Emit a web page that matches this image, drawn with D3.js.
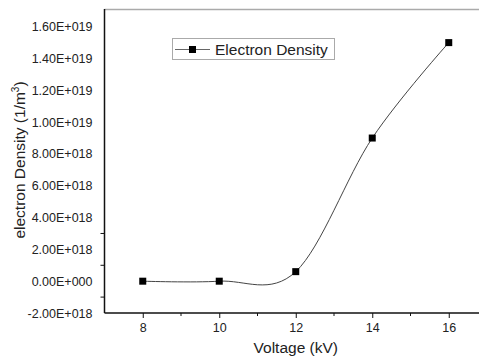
<!DOCTYPE html>
<html>
<head>
<meta charset="utf-8">
<script src="https://cdn.jsdelivr.net/npm/d3@7"></script>
<style>
  body { margin: 0; background: #fff; }
  svg { display: block; font-family: "Liberation Sans", Arial, sans-serif; }
</style>
</head>
<body>
<svg width="479" height="359"></svg>
<script>
// data
var voltage = [8, 10, 12, 14, 16];
var density = [0, 0, 6.0e17, 9.0e18, 1.5e19];
var yTicks = [-2e18, 0, 2e18, 4e18, 6e18, 8e18, 1e19, 1.2e19, 1.4e19, 1.6e19];
var yMinor = [-1e18, 1e18, 3e18];
var xTicks = [8, 10, 12, 14, 16];
var xMinor = [9, 11, 13, 15];
var seriesName = "Electron Density";

// Origin style scientific label, e.g. 1.60E+019
function sci(v) {
  if (v === 0) return "0.00E+000";
  var e = Math.floor(Math.log10(Math.abs(v)) + 1e-9);
  var m = v / Math.pow(10, e);
  return m.toFixed(2) + "E" + (e < 0 ? "-" : "+") + String(Math.abs(e)).padStart(3, "0");
}

function main() {
  var svg = d3.select("svg");

  var x = d3.scaleLinear().domain([7, 17]).range([104.5, 487]);
  var y = d3.scaleLinear().domain([-2e18, 1.6e19]).range([313, 26.7]);

  // top frame line
  svg.append("line")
    .attr("x1", x(7)).attr("x2", 479)
    .attr("y1", 9.5).attr("y2", 9.5)
    .attr("stroke", "#aaa").attr("stroke-width", 1.5);

  // y axis
  var yAxis = svg.append("g")
    .attr("transform", "translate(" + x(7) + ",0)")
    .call(d3.axisLeft(y).tickValues(yTicks).tickFormat(sci).tickSize(0).tickPadding(12));
  yAxis.select(".domain").attr("stroke", "#111").attr("stroke-width", 1.5)
    .attr("d", "M0," + y(-2e18) + "V9");
  yAxis.selectAll("text").attr("font-size", "12.5px").attr("fill", "#222")
    .attr("font-family", "Liberation Sans, Arial, sans-serif");
  yAxis.selectAll(".minor").data(yMinor).enter().append("line")
    .attr("class", "minor")
    .attr("x1", -4).attr("x2", 0)
    .attr("y1", function(d) { return y(d); })
    .attr("y2", function(d) { return y(d); })
    .attr("stroke", "#111");

  // x axis
  var xAxis = svg.append("g")
    .attr("transform", "translate(0," + y(-2e18) + ")")
    .call(d3.axisBottom(x).tickValues(xTicks).tickFormat(d3.format("d")).tickSize(5).tickPadding(5));
  xAxis.select(".domain").attr("stroke", "#111").attr("stroke-width", 1.5)
    .attr("d", "M" + x(7) + ",0H479");
  xAxis.selectAll(".tick line").attr("stroke", "#111");
  xAxis.selectAll("text").attr("font-size", "12.5px").attr("fill", "#222")
    .attr("font-family", "Liberation Sans, Arial, sans-serif");
  xAxis.selectAll(".minor").data(xMinor).enter().append("line")
    .attr("class", "minor")
    .attr("x1", function(d) { return x(d); })
    .attr("x2", function(d) { return x(d); })
    .attr("y1", 0).attr("y2", 3)
    .attr("stroke", "#111");

  // axis titles
  svg.append("text")
    .attr("x", x(12)).attr("y", 353)
    .attr("text-anchor", "middle")
    .attr("font-size", "15.5px").attr("fill", "#222")
    .text("Voltage (kV)");

  var yt = svg.append("text")
    .attr("transform", "translate(25,160) rotate(-90)")
    .attr("text-anchor", "middle")
    .attr("font-size", "15.5px").attr("fill", "#222");
  yt.append("tspan").text("electron Density (1/m");
  yt.append("tspan").attr("dy", -6).attr("font-size", "10px").text("3");
  yt.append("tspan").attr("dy", 6).text(")");

  // spline curve
  var pts = voltage.map(function(v, i) { return [v, density[i]]; });
  var line = d3.line()
    .x(function(d) { return x(d[0]); })
    .y(function(d) { return y(d[1]); })
    .curve(d3.curveCardinal.tension(0));

  svg.append("path")
    .datum(pts)
    .attr("d", line)
    .attr("fill", "none")
    .attr("stroke", "#444")
    .attr("stroke-width", 1);

  svg.selectAll(".pt")
    .data(pts)
    .enter().append("rect")
    .attr("class", "pt")
    .attr("x", function(d) { return x(d[0]) - 3.5; })
    .attr("y", function(d) { return y(d[1]) - 3.5; })
    .attr("width", 7).attr("height", 7)
    .attr("fill", "#000");

  // legend
  var lg = svg.append("g");
  lg.append("rect")
    .attr("x", 172.5).attr("y", 38.5)
    .attr("width", 162).attr("height", 21)
    .attr("fill", "#fff").attr("stroke", "#aaa");
  lg.append("line")
    .attr("x1", 175).attr("x2", 210)
    .attr("y1", 49.5).attr("y2", 49.5)
    .attr("stroke", "#666");
  lg.append("rect")
    .attr("x", 189).attr("y", 46)
    .attr("width", 7).attr("height", 7)
    .attr("fill", "#000");
  lg.append("text")
    .attr("x", 215).attr("y", 55)
    .attr("font-size", "15.5px").attr("fill", "#222")
    .text(seriesName);
}

main();
</script>
</body>
</html>
